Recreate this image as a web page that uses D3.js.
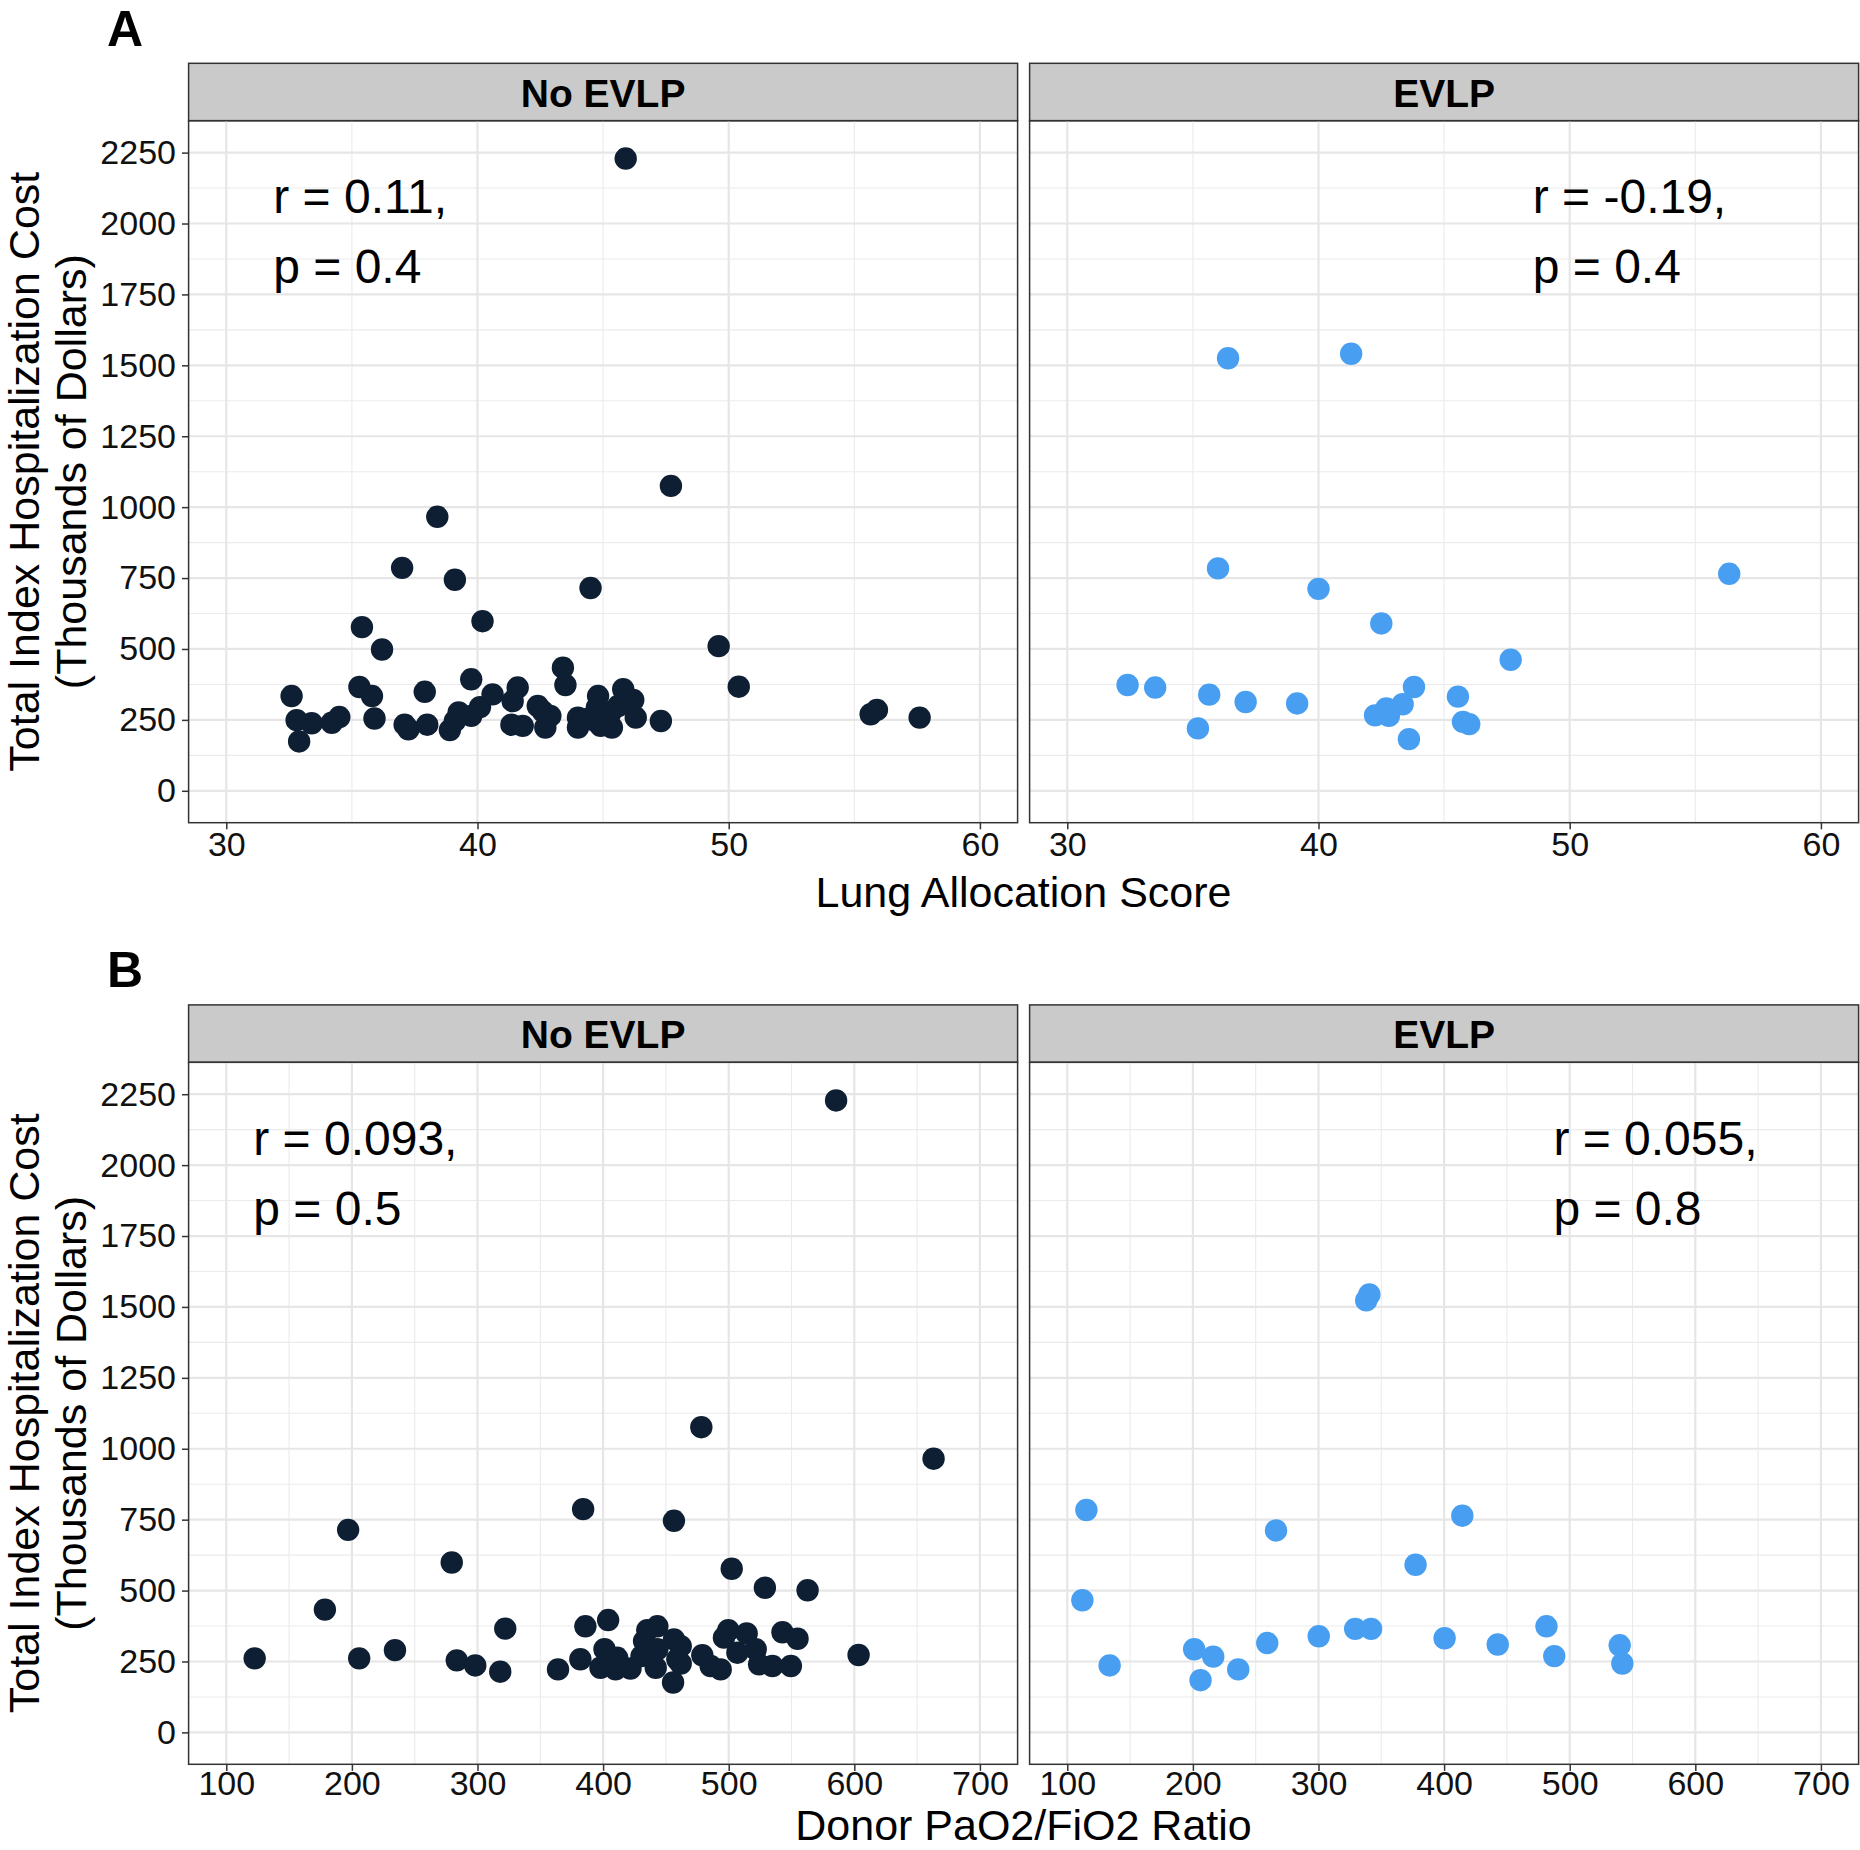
<!DOCTYPE html>
<html>
<head>
<meta charset="utf-8">
<script src="https://cdn.jsdelivr.net/npm/d3@7"></script>
<style>
  body { margin: 0; background: #fff; }
  text { font-family: "Liberation Sans", Arial, Helvetica, sans-serif; }
</style>
</head>
<body>
<div id="chart"></div>
<script>

// facet names and tick labels
let groups = ["No EVLP", "EVLP"];
let costTicks = [0, 250, 500, 750, 1000, 1250, 1500, 1750, 2000, 2250];
let lasTicks = [30, 40, 50, 60];
let pfTicks = [100, 200, 300, 400, 500, 600, 700];

// A: lung allocation score vs cost (thousands of dollars)
let lasNo = [45.9, 47.7, 38.4, 37.0, 39.1, 44.5, 40.2, 35.4, 36.2, 49.6, 50.4, 43.4, 43.5, 32.6, 35.3,
             35.8, 37.9, 39.75, 35.9, 32.8, 32.9, 33.4, 34.2, 34.5, 37.1, 37.25, 38.0, 38.9, 39.1, 39.25,
             39.75, 40.1, 40.6, 41.6, 41.4, 41.35, 41.8, 42.4, 42.7, 42.9, 42.6, 44.0, 44.0, 44.8, 44.75,
             44.7, 44.9, 45.35, 45.3, 45.8, 46.2, 46.3, 47.3, 44.3, 45.6, 55.65, 55.9, 57.6];
let lasNoCost = [2229, 1075, 966, 786, 744, 715, 598, 577, 498, 510, 367, 434, 373, 334, 366,
                 334, 349, 393, 255, 249, 174, 238, 240, 260, 233, 217, 233, 214, 246, 276,
                 264, 295, 340, 364, 316, 233, 229, 299, 223, 264, 280, 258, 223, 334, 293,
                 246, 229, 223, 276, 358, 320, 258, 246, 252, 299, 270, 285, 258];

let lasEv = [36.4, 41.3, 36.0, 40.0, 42.5, 32.4, 33.5, 35.65, 37.1, 39.15, 35.2, 42.25, 42.7, 42.8,
             43.35, 43.8, 43.6, 45.55, 45.75, 46.0, 47.65, 56.35];
let lasEvCost = [1525, 1541, 784, 712, 590, 373, 364, 339, 313, 308, 220, 266, 290, 264,
                 305, 366, 182, 332, 243, 235, 462, 765];

// B: donor PaO2/FiO2 ratio vs cost
let pfNo = [122.6, 197, 178.5, 205.8, 234.3, 279.5, 283.5, 298.2, 318.1, 322.1, 384.1, 456.4, 502.4,
            528.8, 562.8, 385.9, 404, 364.1, 381.9, 397.9, 401.1, 409.9, 411.2, 421.8, 435.2, 443.2,
            432.6, 441.9, 430.6, 443.2, 456.4, 461.8, 459.1, 461.8, 455.7, 479, 485.6, 493.6, 499.7,
            496.2, 506.9, 514.3, 521.5, 524.2, 534.8, 542.8, 549.5, 554.8, 585.5, 478.2, 663.1, 603.4];
let pfNoCost = [261, 714, 433, 261, 290, 599, 254, 236, 214, 366, 787, 746, 577,
                510, 501, 374, 396, 222, 258, 228, 293, 222, 263, 225, 360, 374,
                322, 228, 269, 293, 328, 304, 258, 243, 176, 272, 234, 222, 360,
                334, 281, 349, 293, 240, 234, 353, 234, 330, 2228, 1076, 965, 273];

let pfEv = [115.2, 112.0, 133.7, 201, 216.2, 206.1, 236.1, 266.2, 259.2, 300.2, 329.2, 341.9, 377.3,
            400.4, 414.5, 442.7, 481.5, 487.7, 539.8, 541.9, 340.5, 338];
let pfEvCost = [784, 466, 236, 293, 267, 184, 222, 712, 315, 339, 365, 365, 591,
                332, 764, 310, 374, 269, 307, 243, 1544, 1523];

// correlation labels
let labelsA = [["r = 0.11,", "p = 0.4"], ["r = -0.19,", "p = 0.4"]];
let labelsB = [["r = 0.093,", "p = 0.5"], ["r = 0.055,", "p = 0.8"]];


let svg = d3.select("#chart").append("svg")
svg.attr("width", 1860)
svg.attr("height", 1850)

svg.append("rect").attr("width", 1860).attr("height", 1850).attr("fill", "#fff")

let panelX = [188.6, 1029.6]
let panelW = 829
let panelH = 702
let stripH = 57.4
let colors = ["#0e1f33", "#489ff1"]

let yScale = function (top) {
  return d3.scaleLinear().domain([-112.5, 2362.5]).range([top + panelH, top])
}

// one row of the figure (panel A or panel B)
function drawRow(row) {
  let g = svg.append("g")
  let y = yScale(row.top)

  // panel letter
  g.append("text")
   .attr("x", 107)
   .attr("y", row.top - 75)
   .style("font-size", "50px")
   .style("font-weight", "bold")
   .text(row.letter)

  groups.forEach(function (name, i) {
    let x = d3.scaleLinear().domain(row.xDomain).range([panelX[i], panelX[i] + panelW])
    let p = g.append("g")

    // strip
    p.append("rect")
     .attr("x", panelX[i]).attr("y", row.top - stripH)
     .attr("width", panelW).attr("height", stripH)
     .attr("fill", "#cacaca").attr("stroke", "#333").attr("stroke-width", 1.5)
    p.append("text")
     .attr("x", panelX[i] + panelW / 2).attr("y", row.top - stripH + 43.4)
     .attr("text-anchor", "middle")
     .style("font-size", "39px").style("font-weight", "bold")
     .text(name)

    // grid: minor lines halfway between majors
    let xMinor = d3.pairs(row.xTicks).map(d => (d[0] + d[1]) / 2)
    let yMinor = d3.pairs(costTicks).map(d => (d[0] + d[1]) / 2)

    p.selectAll(".xminor").data(xMinor).enter().append("line")
     .attr("x1", d => x(d)).attr("x2", d => x(d))
     .attr("y1", row.top).attr("y2", row.top + panelH)
     .attr("stroke", "#ebebeb").attr("stroke-width", 1.1)
    p.selectAll(".yminor").data(yMinor).enter().append("line")
     .attr("x1", panelX[i]).attr("x2", panelX[i] + panelW)
     .attr("y1", d => y(d)).attr("y2", d => y(d))
     .attr("stroke", "#ebebeb").attr("stroke-width", 1.1)
    p.selectAll(".xmajor").data(row.xTicks).enter().append("line")
     .attr("x1", d => x(d)).attr("x2", d => x(d))
     .attr("y1", row.top).attr("y2", row.top + panelH)
     .attr("stroke", "#e6e6e6").attr("stroke-width", 2.2)
    p.selectAll(".ymajor").data(costTicks).enter().append("line")
     .attr("x1", panelX[i]).attr("x2", panelX[i] + panelW)
     .attr("y1", d => y(d)).attr("y2", d => y(d))
     .attr("stroke", "#e6e6e6").attr("stroke-width", 2.2)

    // points
    let xs = row.xs[i], ys = row.ys[i]
    p.selectAll("circle").data(xs).enter().append("circle")
     .attr("cx", d => x(d))
     .attr("cy", (d, j) => y(ys[j]))
     .attr("r", 11.2)
     .attr("fill", colors[i])

    // r / p label
    let lab = row.labels[i]
    p.selectAll(".lab").data(lab).enter().append("text")
     .attr("x", x(row.labelX[i]))
     .attr("y", (d, j) => y(2036) + j * 70)
     .style("font-size", "48px")
     .text(d => d)

    // border
    p.append("rect")
     .attr("x", panelX[i]).attr("y", row.top)
     .attr("width", panelW).attr("height", panelH)
     .attr("fill", "none").attr("stroke", "#333").attr("stroke-width", 1.5)

    // x axis
    let xa = p.append("g")
     .attr("transform", "translate(0," + (row.top + panelH) + ")")
     .call(d3.axisBottom(x).tickValues(row.xTicks).tickSize(6.6).tickPadding(row.tickPad))
    styleAxis(xa)

    // y axis on the left panel only
    if (i == 0) {
      let ya = p.append("g")
       .attr("transform", "translate(" + panelX[i] + ",0)")
       .call(d3.axisLeft(y).tickValues(costTicks).tickFormat(d3.format("d"))
               .tickSize(6.6).tickPadding(6))
      styleAxis(ya)
    }
  })

  // axis titles
  g.append("text")
   .attr("x", 1023.5).attr("y", row.top + panelH + row.titleGap)
   .attr("text-anchor", "middle")
   .style("font-size", "43px")
   .text(row.xTitle)

  let cy = row.top + panelH / 2
  g.append("text")
   .attr("transform", "translate(39," + cy + ") rotate(-90)")
   .attr("text-anchor", "middle")
   .style("font-size", "43px")
   .text("Total Index Hospitalization Cost")
  g.append("text")
   .attr("transform", "translate(86," + cy + ") rotate(-90)")
   .attr("text-anchor", "middle")
   .style("font-size", "43px")
   .text("(Thousands of Dollars)")
}

function styleAxis(sel) {
  sel.select(".domain").remove()
  sel.selectAll("line").attr("stroke", "#333").attr("stroke-width", 1.5)
  sel.selectAll("text")
     .attr("fill", "#111")
     .style("font-size", "34px")
     .style("font-family", "'Liberation Sans', Arial, sans-serif")
}

drawRow({
  letter: "A", top: 120.7, xDomain: [28.5, 61.5], xTicks: lasTicks,
  xs: [lasNo, lasEv], ys: [lasNoCost, lasEvCost],
  labels: labelsA, labelX: [31.87, 48.53],
  xTitle: "Lung Allocation Score", titleGap: 84, tickPad: 3
})

drawRow({
  letter: "B", top: 1062.3, xDomain: [70, 730], xTicks: pfTicks,
  xs: [pfNo, pfEv], ys: [pfNoCost, pfEvCost],
  labels: labelsB, labelX: [121.5, 487],
  xTitle: "Donor PaO2/FiO2 Ratio", titleGap: 76, tickPad: 0
})

</script>
</body>
</html>
